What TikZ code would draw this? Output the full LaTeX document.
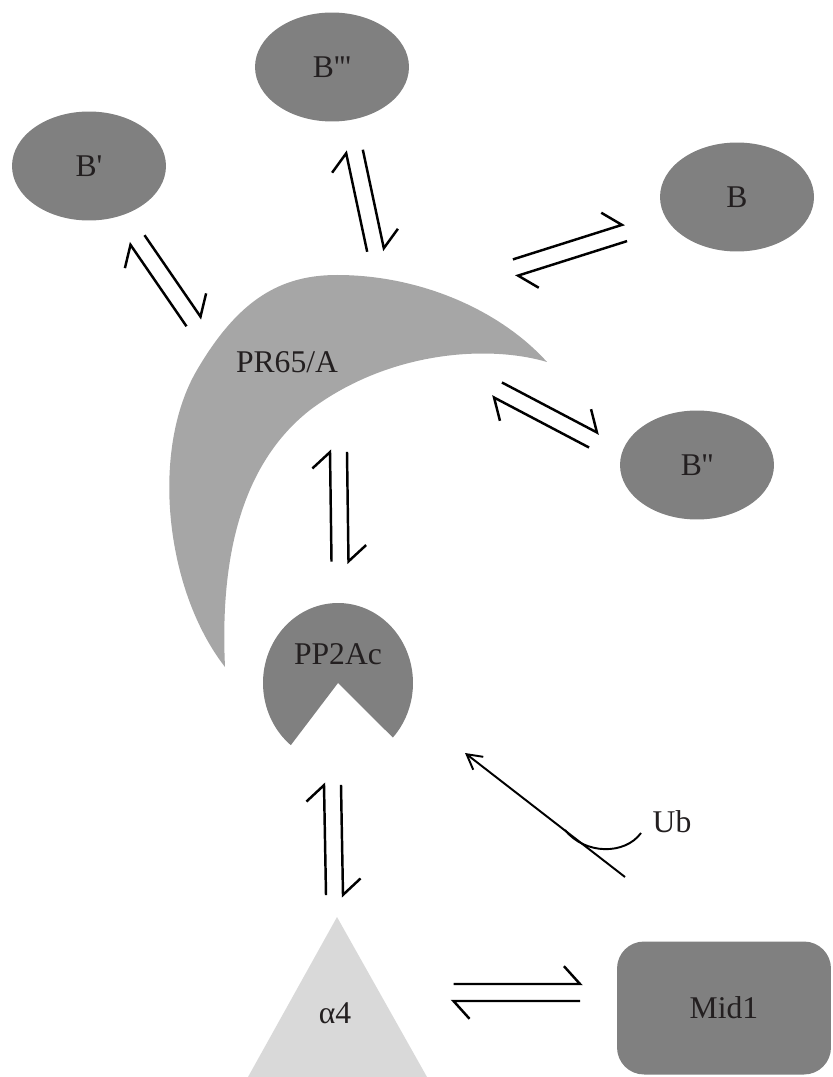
\documentclass[tikz,border=0pt]{standalone}
\usepackage{fontspec}
\setmainfont{Liberation Serif}[Ligatures=TeXOff]
\usetikzlibrary{positioning,calc,shapes.geometric,arrows.meta}
\definecolor{subgray}{HTML}{808080}
\definecolor{scafgray}{HTML}{A6A6A6}
\definecolor{alphagray}{HTML}{D9D9D9}
\definecolor{ink}{HTML}{231F20}
\tikzset{lbl/.style = {font=\fontsize{18}{21}\selectfont, text=ink},
         subunit/.style = {ellipse, fill=subgray, minimum width=3.08cm, minimum height=2.18cm, inner sep=0pt, lbl},
         harp/.style = {line width=1.4pt, line join=miter},
         ubarrow/.style = {line width=1.1pt, -{Straight Barb[length=8.4pt, width=9.3pt]}}}
\newcommand\harpgap{0.17cm}
\newcommand\barblen{0.48cm}
% one half of an equilibrium arrow, from #1 to #2, sitting on its left
\newcommand\halfarrow[2]{%
  \draw[harp] ($(#1)!\harpgap!90:(#2)$) coordinate (h1)
    -- ($(#2)!\harpgap!-90:(#1)$) coordinate (h2)
    -- ($(h2)!\barblen!-48:(h1)$);}
\newcommand\equilpair[2]{\halfarrow{#1}{#2}\halfarrow{#2}{#1}}

\begin{document}
\begin{tikzpicture}[x=0.02cm, y=-0.02cm]
    \useasboundingbox (0,0) rectangle (832,1077);

    % scaffold
    \fill[scafgray] (225,667) .. controls (165,590) and (150,450) .. (197,370)
        .. controls (238,300) and (280,275) .. (337,275)
        .. controls (420,275) and (500,310) .. (547,362)
        .. controls (490,345) and (390,350) .. (310,410)
        .. controls (240,465) and (220,560) .. (225,667) -- cycle;
    \node [lbl] (pr65) at (287,362) {PR65/A};

    % catalytic subunit
    \fill[subgray] (338,683) -- ($(338,683)+(129:75 and 80)$)
        arc[start angle=129, end angle=403, x radius=75, y radius=80] -- cycle;
    \node [lbl] (pp2ac) at (338,654) {PP2Ac};

    % regulatory subunits
    \node [subunit] (bprime)  at ( 89,166) {B'};
    \node [subunit] (btriple) at (332, 67) {B'''};
    \node [subunit] (bplain)  at (737,197) {B};
    \node [subunit] (bdouble) at (697,465) {B''};

    \fill[alphagray] (337,917) -- (248,1077) -- (427,1077) -- cycle;
    \node [lbl] (alpha) at (335,1013) {α4};

    \node [lbl, rectangle, rounded corners=0.54cm, fill=subgray, minimum width=4.28cm, minimum height=2.66cm] (mid1) at (724,1008) {Mid1};

    % equilibria
    \coordinate (pr-bp) at (193.5,321.5);  \coordinate (bp-pr) at (137.5,240);
    \coordinate (pr-bt) at (375.5,250);    \coordinate (bt-pr) at (354.5,151.5);
    \coordinate (pr-bb) at (515.5,267.5);  \coordinate (bb-pr) at (624.5,233);
    \coordinate (pr-bd) at (498,390);      \coordinate (bd-pr) at (593,440);
    \coordinate (pc-pr) at (340,561.5);    \coordinate (pr-pc) at (338.5,452);
    \coordinate (al-pc) at (334.5,895);    \coordinate (pc-al) at (332.5,785);
    \coordinate (al-md) at (453.5,992.5);  \coordinate (md-al) at (580,992.5);

    \equilpair{pr-bp}{bp-pr}
    \equilpair{pr-bt}{bt-pr}
    \equilpair{pr-bb}{bb-pr}
    \equilpair{pr-bd}{bd-pr}
    \equilpair{pc-pr}{pr-pc}
    \equilpair{al-pc}{pc-al}
    \equilpair{al-md}{md-al}

    % ubiquitination
    \coordinate (ubfrom) at (625,877);
    \coordinate (ubto) at (465,753);
    \draw[ubarrow] (ubfrom) -- (ubto);
    \draw[line width=1.1pt] (565,830) .. controls (585,855) and (625,855) .. (641,833);
    \node [lbl] (ub) at (672,822) {Ub};
\end{tikzpicture}
\end{document}
